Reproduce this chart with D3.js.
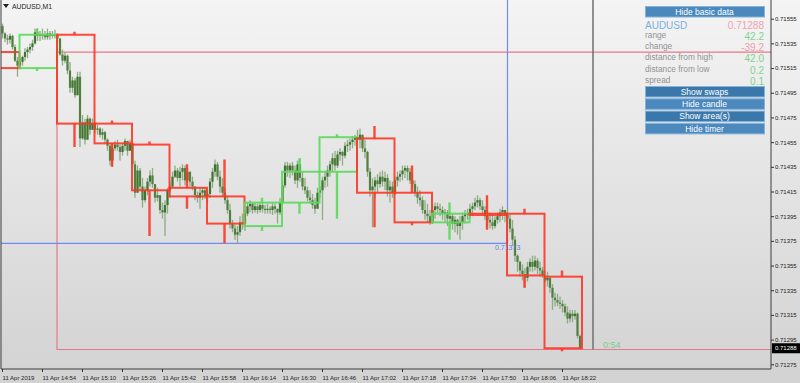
<!DOCTYPE html>
<html>
<head>
<meta charset="utf-8">
<script src="https://cdn.jsdelivr.net/npm/d3@7"></script>
<style>
  html, body { margin: 0; padding: 0; background: #e4e4e4; }
  svg { display: block; font-family: "Liberation Sans", Arial, sans-serif; }
</style>
</head>
<body>
<svg width="800" height="383"></svg>
<script>
const symbol = 'AUDUSD,M1'
const base = 0.71
const pt = 0.00001

// M1 bars, one per minute from 14:38, in points above 0.71000
const m1Start = '14:38'
const m1Open0 = 549
const m1High = [
  551, 544, 542, 543, 542, 534, 524,
  523, 525, 531, 532, 535, 538, 547, 547, 545, 547, 545, 547, 545, 545, 546,
  543, 539, 530, 528, 526, 520, 508, 507, 512, 512, 477, 474, 477, 475, 474,
  471, 469, 467, 466, 464, 458, 453, 454, 456, 457, 453, 454, 458, 456, 457,
  454, 440, 436, 434, 426, 419, 426, 432, 434, 421, 418, 412, 406, 408, 418,
  423, 431, 436, 434, 435, 437, 436, 434, 431, 427, 419, 415, 418, 418, 418,
  416, 426, 434, 441, 439, 432, 426, 418, 411, 405, 392, 388, 387, 395, 397,
  400, 406, 408, 406, 406, 405, 406, 406, 404, 405, 403, 406, 405, 401, 410,
  424, 439, 439, 438, 439, 436, 440, 442, 431, 426, 419, 416, 413, 410, 418,
  419, 427, 431, 436, 440, 446, 448, 448, 450, 448, 455, 457, 458, 460, 461,
  465, 466, 461, 457, 448, 434, 426, 427, 429, 431, 432, 431, 429, 424, 423,
  427, 431, 432, 436, 436, 436, 434, 429, 424, 419, 416, 411, 408, 405, 400,
  405, 406, 406, 405, 403, 401, 400, 398, 397, 395, 393, 395, 398, 400, 401,
  405, 406, 410, 412, 410, 408, 403, 400, 398, 397, 395, 398, 401, 403, 400,
  401, 397, 392, 379, 364, 359, 356, 353, 358, 361, 363, 363, 361, 358, 354,
  351, 350, 346, 340, 333, 332, 330, 327, 324, 322, 319, 319, 319, 317, 299
]
const m1Low = [
  539, 536, 534, 535, 530, 520, 508,
  514, 517, 521, 523, 527, 529, 534, 537, 537, 538, 538, 538, 538, 539, 539,
  536, 525, 517, 519, 510, 495, 495, 491, 497, 451, 457, 453, 463, 461, 465,
  462, 461, 459, 457, 454, 448, 436, 435, 448, 448, 440, 444, 448, 444, 449,
  434, 410, 422, 416, 402, 406, 412, 419, 418, 406, 407, 397, 393, 379, 397,
  410, 418, 426, 423, 419, 424, 420, 422, 419, 416, 408, 406, 401, 408, 409,
  406, 410, 418, 427, 424, 414, 411, 405, 397, 385, 382, 376, 373, 379, 384,
  383, 395, 398, 397, 398, 397, 398, 398, 397, 397, 397, 396, 397, 389, 396,
  404, 418, 427, 426, 428, 421, 418, 423, 416, 413, 407, 405, 401, 397, 405,
  410, 392, 418, 419, 427, 431, 432, 434, 440, 436, 442, 447, 448, 450, 452,
  452, 450, 447, 442, 427, 411, 386, 410, 414, 418, 419, 416, 411, 406, 410,
  412, 419, 423, 424, 426, 424, 421, 418, 411, 405, 403, 397, 392, 390, 388,
  389, 393, 397, 395, 392, 390, 387, 385, 384, 382, 380, 376, 384, 389, 392,
  393, 395, 400, 402, 400, 397, 392, 387, 385, 384, 385, 389, 390, 392, 390,
  389, 382, 371, 358, 350, 346, 343, 337, 342, 350, 350, 351, 348, 346, 345,
  341, 338, 333, 319, 322, 322, 320, 317, 314, 308, 309, 309, 311, 296, 287
]
const m1Close = [
  543, 539, 538, 541, 532, 521, 517,
  520, 524, 528, 530, 532, 535, 544, 541, 542, 542, 540, 543, 541, 542, 542,
  539, 526, 521, 525, 513, 499, 505, 493, 508, 458, 471, 457, 474, 465, 470,
  465, 466, 461, 463, 457, 452, 440, 450, 453, 451, 447, 452, 456, 448, 454,
  437, 414, 432, 419, 408, 416, 423, 428, 421, 410, 412, 400, 398, 404, 416,
  419, 427, 432, 426, 431, 434, 424, 431, 423, 419, 412, 410, 414, 416, 411,
  413, 423, 431, 437, 427, 419, 414, 408, 400, 389, 385, 380, 382, 390, 389,
  397, 403, 405, 400, 403, 400, 404, 401, 400, 401, 400, 403, 401, 398, 406,
  420, 436, 432, 436, 432, 424, 437, 426, 419, 416, 410, 408, 404, 401, 414,
  416, 424, 427, 432, 437, 442, 436, 445, 447, 444, 452, 453, 455, 457, 459,
  457, 461, 450, 447, 431, 416, 419, 424, 421, 427, 423, 426, 416, 419, 414,
  424, 427, 429, 432, 434, 431, 424, 421, 414, 410, 408, 400, 397, 395, 390,
  400, 403, 401, 400, 397, 398, 393, 395, 389, 392, 387, 390, 395, 397, 397,
  401, 403, 406, 408, 403, 400, 395, 392, 390, 387, 392, 395, 398, 400, 396,
  393, 385, 376, 363, 358, 351, 348, 345, 354, 358, 354, 359, 353, 351, 347,
  343, 345, 337, 329, 327, 325, 324, 322, 317, 312, 316, 314, 316, 298, 288
]

// M15 candles drawn as outline boxes, points above 0.71000
const m15Start = ['14:30', '14:45', '15:00', '15:15', '15:30', '15:45', '16:00', '16:15',
  '16:30', '16:45', '17:00', '17:15', '17:30', '17:45', '18:00', '18:15']
const m15Open = [528, 515, 542, 470, 453, 418, 411, 387, 406, 431, 458, 414, 390, 397, 397, 346]
const m15High = [551, 547, 544, 471, 454, 437, 441, 410, 442, 461, 468, 436, 406, 412, 401, 351]
const m15Low = [508, 513, 451, 435, 379, 401, 373, 383, 397, 393, 386, 388, 376, 384, 337, 287]
const m15Close = [515, 542, 470, 454, 416, 411, 389, 406, 431, 459, 414, 390, 397, 396, 347, 288]

// lines on the chart
const rangeStart = '15:00'
const rangeHigh = 0.71528
const rangeLow = 0.71287
const crossTime = '18:00'
const crossPrice = 0.71373
const nowTime = '18:34'
const lastPrice = 0.71288
const timerText = '0:54'

// axes
const priceTicks = [0.71555, 0.71535, 0.71515, 0.71495, 0.71475, 0.71455, 0.71435, 0.71415,
  0.71395, 0.71375, 0.71355, 0.71335, 0.71315, 0.71295, 0.71275]
const timeTicks = ['14:38', '14:54', '15:10', '15:26', '15:42', '15:58', '16:14', '16:30',
  '16:46', '17:02', '17:18', '17:34', '17:50', '18:06', '18:22']
const timeLabels = ['11 Apr 2019', '11 Apr 14:54', '11 Apr 15:10', '11 Apr 15:26', '11 Apr 15:42',
  '11 Apr 15:58', '11 Apr 16:14', '11 Apr 16:30', '11 Apr 16:46', '11 Apr 17:02', '11 Apr 17:18',
  '11 Apr 17:34', '11 Apr 17:50', '11 Apr 18:06', '11 Apr 18:22']

// info panel
const panelSymbol = 'AUDUSD'
const panelPrice = '0.71288'
const panelLabels = ['range', 'change', 'distance from high', 'distance from low', 'spread']
const panelValues = ['42.2', '-39.2', '42.0', '0.2', '0.1']
const panelUp = [true, false, true, true, true]
const topButton = 'Hide basic data'
const buttons = ['Show swaps', 'Hide candle', 'Show area(s)', 'Hide timer']
const buttonDark = [true, false, true, false]

const svg = d3.select('svg')
const W = 800
const H = 383
const left = 1
const right = 771
const bottom = 369

const parse = d3.timeParse('%H:%M')
const px = (v) => base + v * pt

const x = d3.scaleTime()
  .domain([parse('14:38'), parse('18:22')])
  .range([2, 562])
const y = d3.scaleLinear()
  .domain([0.71275, 0.71555])
  .range([364.3, 18.7])

const defs = svg.append('defs')
const grad = defs.append('linearGradient')
  .attr('id', 'bg').attr('x1', 0).attr('y1', 0).attr('x2', 0).attr('y2', 1)
grad.append('stop').attr('offset', '0%').attr('stop-color', '#f4f4f4')
grad.append('stop').attr('offset', '100%').attr('stop-color', '#d2d2d2')
defs.append('clipPath').attr('id', 'plot')
  .append('rect').attr('x', left).attr('y', 0).attr('width', right - left).attr('height', bottom)

svg.append('rect').attr('width', W).attr('height', H).attr('fill', 'url(#bg)')

const plot = svg.append('g').attr('clip-path', 'url(#plot)')

// high / low range lines
plot.append('path')
  .attr('d', `M${right},${y(rangeHigh)}H${x(parse(rangeStart))}V${y(rangeLow)}H${right}`)
  .attr('fill', 'none')
  .attr('stroke', '#e8788a')
  .attr('stroke-width', 1.2)

// crosshair
plot.append('path')
  .attr('d', `M${left},${y(crossPrice)}H${x(parse(crossTime)) + 0.5}V0`)
  .attr('fill', 'none')
  .attr('stroke', '#6f8cf0')
  .attr('stroke-width', 1.2)

// time line
const nowX = x(parse(nowTime)) + 1
plot.append('line')
  .attr('x1', nowX).attr('x2', nowX)
  .attr('y1', 0).attr('y2', y(rangeLow))
  .attr('stroke', '#777')
  .attr('stroke-width', 1.6)

// M1 candles
const t0 = parse(m1Start)
const bars = m1Close.map((c, i) => {
  const o = i === 0 ? m1Open0 : m1Close[i - 1]
  return { t: d3.timeMinute.offset(t0, i), o, c, h: m1High[i], l: m1Low[i] }
})

plot.append('g').selectAll('line')
  .data(bars)
  .join('line')
  .attr('x1', (d) => x(d.t) + 0.5)
  .attr('x2', (d) => x(d.t) + 0.5)
  .attr('y1', (d) => y(px(Math.max(d.h, d.o, d.c))))
  .attr('y2', (d) => y(px(Math.min(d.l, d.o, d.c))))
  .attr('stroke', '#8eab84')
  .attr('stroke-width', 1.3)

plot.append('g').selectAll('rect')
  .data(bars)
  .join('rect')
  .attr('x', (d) => x(d.t) - 0.6)
  .attr('width', 2.2)
  .attr('y', (d) => y(px(Math.max(d.o, d.c))))
  .attr('height', (d) => Math.max(1, Math.abs(y(px(d.o)) - y(px(d.c)))))
  .attr('fill', (d) => d.c >= d.o ? '#3f7332' : '#52803f')

// M15 boxes
const boxes = m15Start.map((s, i) => ({
  t: parse(s), o: m15Open[i], h: m15High[i], l: m15Low[i], c: m15Close[i]
}))
const boxColor = (d) => d.c >= d.o ? '#5cd95c' : '#ff3526'

const bg = plot.append('g').attr('stroke-opacity', 0.9)
bg.selectAll('rect')
  .data(boxes)
  .join('rect')
  .attr('x', (d) => x(d.t))
  .attr('width', (d) => x(d3.timeMinute.offset(d.t, 15)) - x(d.t))
  .attr('y', (d) => y(px(Math.max(d.o, d.c))))
  .attr('height', (d) => Math.max(1, Math.abs(y(px(d.o)) - y(px(d.c)))))
  .attr('fill', 'none')
  .attr('stroke', boxColor)
  .attr('stroke-width', 2)

bg.selectAll('path')
  .data(boxes)
  .join('path')
  .attr('d', (d) => {
    const cx = x(d3.timeMinute.offset(d.t, 7.5))
    const top = y(px(Math.max(d.o, d.c)))
    const bot = y(px(Math.min(d.o, d.c)))
    const hi = Math.min(y(px(d.h)), top - 3)
    const lo = Math.max(y(px(d.l)), bot + 3)
    return `M${cx},${hi}V${top}M${cx},${bot}V${lo}`
  })
  .attr('fill', 'none')
  .attr('stroke', boxColor)
  .attr('stroke-width', 2.4)

// crosshair price label
svg.append('text')
  .attr('x', x(parse(crossTime)) - 12)
  .attr('y', y(crossPrice) + 7)
  .attr('font-size', 7)
  .attr('fill', '#5f82e4')
  .text(d3.format('.5f')(crossPrice))

// timer
svg.append('text')
  .attr('x', nowX + 10)
  .attr('y', y(lastPrice) - 0.5)
  .attr('font-size', 9)
  .attr('fill', '#78cc92')
  .text(timerText)

// frame
svg.append('path')
  .attr('d', `M${left},0V${bottom}H${right}V0`)
  .attr('fill', 'none')
  .attr('stroke', '#3c3c3c')
  .attr('stroke-width', 1)

// price axis
const yAxis = svg.append('g')
  .attr('transform', `translate(${right},0)`)
  .call(d3.axisRight(y).tickValues(priceTicks).tickSize(3).tickPadding(1).tickFormat(d3.format('.5f')))
yAxis.select('.domain').remove()
yAxis.selectAll('line').attr('stroke', '#333')
yAxis.selectAll('text').attr('font-size', 6).attr('fill', '#222').attr('font-family', '"Liberation Sans", Arial, sans-serif')

// time axis
const xAxis = svg.append('g')
  .attr('transform', `translate(0,${bottom})`)
  .call(d3.axisBottom(x).tickValues(timeTicks.map(parse)).tickSize(3).tickPadding(4)
    .tickFormat((d, i) => timeLabels[i]))
xAxis.select('.domain').remove()
xAxis.selectAll('line').attr('stroke', '#333')
xAxis.selectAll('text')
  .attr('font-size', 6)
  .attr('fill', '#222')
  .attr('text-anchor', 'start')
  .attr('font-family', '"Liberation Sans", Arial, sans-serif')

// last price tag
const lp = y(lastPrice)
svg.append('rect')
  .attr('x', right + 1).attr('y', lp - 5)
  .attr('width', W - right - 1).attr('height', 10)
  .attr('fill', '#000')
svg.append('text')
  .attr('x', right + 4).attr('y', lp + 2.2)
  .attr('font-size', 6)
  .attr('fill', '#fff')
  .text(d3.format('.5f')(lastPrice))

// symbol title
svg.append('path').attr('d', 'M3,4H9L6,8Z').attr('fill', '#222')
svg.append('text')
  .attr('x', 12).attr('y', 8.5)
  .attr('font-size', 6.8)
  .attr('fill', '#222')
  .text(symbol)

// info panel
const panelX = 645
const panelR = 764
const drawButton = (label, top, dark) => {
  svg.append('rect')
    .attr('x', panelX + 0.5).attr('y', top + 0.5)
    .attr('width', panelR - panelX).attr('height', 10.5)
    .attr('fill', dark ? '#3a78ab' : '#4a88bd')
    .attr('stroke', '#86b3d8')
    .attr('stroke-width', 1)
  svg.append('text')
    .attr('x', (panelX + panelR) / 2).attr('y', top + 8.8)
    .attr('text-anchor', 'middle')
    .attr('font-size', 8.5)
    .attr('fill', '#fff')
    .text(label)
}

drawButton(topButton, 6, false)

svg.append('text')
  .attr('x', panelX).attr('y', 28.5)
  .attr('font-size', 10)
  .attr('fill', '#7eb0e2')
  .text(panelSymbol)
svg.append('text')
  .attr('x', panelR).attr('y', 28.5)
  .attr('text-anchor', 'end')
  .attr('font-size', 10)
  .attr('fill', '#f1a0b2')
  .text(panelPrice)

panelLabels.forEach((label, i) => {
  const by = 39.5 + i * 11.4
  svg.append('text')
    .attr('x', panelX).attr('y', by - 2)
    .attr('font-size', 8.3)
    .attr('fill', '#939393')
    .text(label)
  svg.append('text')
    .attr('x', panelR).attr('y', by)
    .attr('text-anchor', 'end')
    .attr('font-size', 10)
    .attr('fill', panelUp[i] ? '#7dd48f' : '#f09aac')
    .text(panelValues[i])
})

buttons.forEach((label, i) => drawButton(label, 86 + i * 12.3, buttonDark[i]))
</script>
</body>
</html>
